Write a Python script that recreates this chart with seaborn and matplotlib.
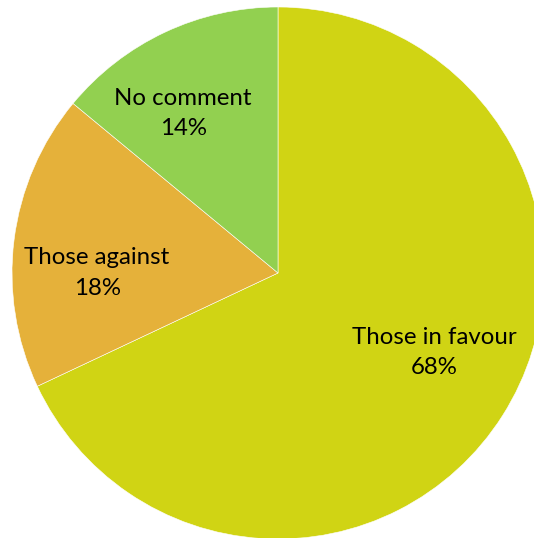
import matplotlib
matplotlib.use("Agg")
import matplotlib.pyplot as plt
import seaborn as sns

categories = ["Those in favour", "Those against", "No comment"]
values = [68, 18, 14]
colors = ["#D0D414", "#E5B13A", "#92D050"]

sns.set_theme(style="white")
plt.rcParams['font.family'] = ['Lato', 'DejaVu Sans']

W, H = 534, 538
fig = plt.figure(figsize=(W / 100, H / 100), dpi=100)
ax = fig.add_axes([0, 0, 1, 1])
cx, cy, R = 278, 273, 266

wedges, texts = ax.pie(values, colors=colors, startangle=90, counterclock=False,
                       radius=1.0, center=(0, 0),
                       wedgeprops=dict(edgecolor="white", linewidth=0.4))
# label placement (relative to pie radius)
offsets = [(0.586, -0.30), (-0.68, 0.0), (-0.357, 0.60)]
for (cat, v, (dx, dy)) in zip(categories, values, offsets):
    ax.text(dx, dy, f"{cat}\n{v}%", ha="center", va="center", fontsize=17.3,
            color="black", linespacing=1.55)

ax.set_xlim(-cx / R, (W - cx) / R)
ax.set_ylim(-(H - cy) / R, cy / R)
ax.set_aspect("equal")
ax.axis("off")
fig.savefig("out.png", dpi=100, facecolor="white")
